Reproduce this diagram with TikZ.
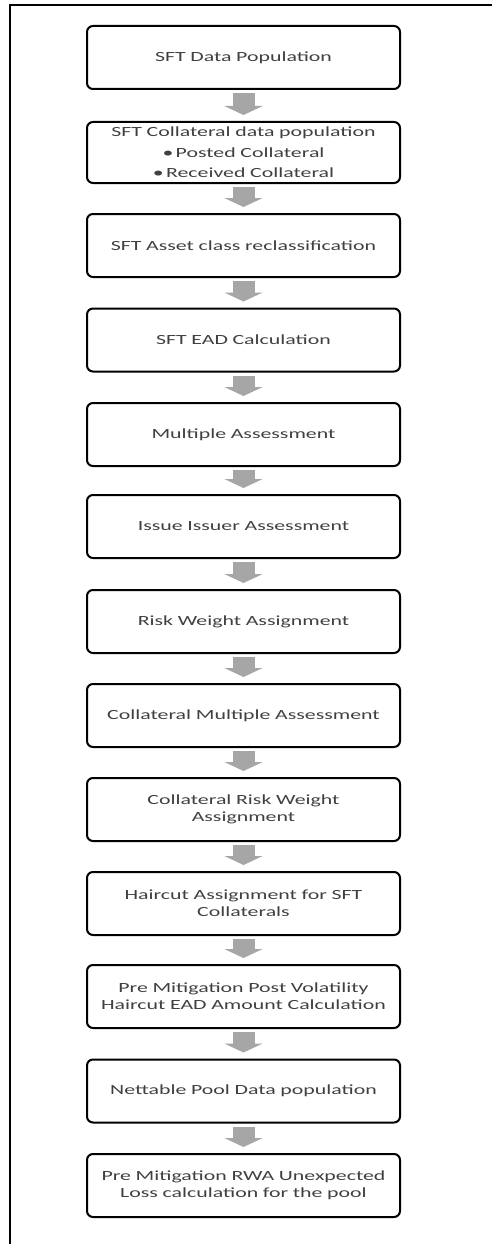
\documentclass[tikz,border=0pt]{standalone}
\usepackage{fontspec}
\setmainfont[FakeStretch=1.56]{Carlito}
\usetikzlibrary{arrows.meta,calc}
\definecolor{txt}{HTML}{404040}
\definecolor{arr}{HTML}{A6A6A6}
\tikzset{
  stepbox/.style={draw=black, line width=2pt, rounded corners=6pt, minimum width=313pt, minimum height=63pt, inner sep=1pt, align=center, text=txt, font=\fontsize{14}{17}\selectfont, text width=309pt},
  flowarrow/.style={draw=arr, line width=22pt, -{Triangle[width=38pt,length=9pt]}, shorten <=3pt, shorten >=6pt},
}
\begin{document}
\begin{tikzpicture}[x=1pt,y=-1pt]
\useasboundingbox (0,0) rectangle (492,1244);
\draw[line width=2pt] (10,1244) -- (10,5) -- (492,5);
\node[stepbox] (b1) at (243.5,57.5) {SFT Data Population};
\node[stepbox, minimum height=61pt] (b2) at (243.5,152.5) {SFT Collateral data population\\[4pt]\textbullet\,Posted Collateral\\[3pt]\textbullet\,Received Collateral};
\node[stepbox] (b3) at (243.5,245.5) {SFT Asset class reclassification};
\node[stepbox] (b4) at (243.5,340) {SFT EAD Calculation};
\node[stepbox] (b5) at (243.5,434.5) {Multiple Assessment};
\node[stepbox] (b6) at (243.5,526.5) {Issue Issuer Assessment};
\node[stepbox] (b7) at (243.5,621.5) {Risk Weight Assignment};
\node[stepbox] (b8) at (243.5,715.5) {Collateral Multiple Assessment};
\node[stepbox] (b9) at (243.5,809.5) {Collateral Risk Weight\\Assignment};
\node[stepbox] (b10) at (243.5,903.5) {Haircut Assignment for SFT\\Collaterals};
\node[stepbox] (b11) at (243.5,996.5) {Pre Mitigation Post Volatility\\Haircut EAD Amount Calculation};
\node[stepbox] (b12) at (243.5,1091) {Nettable Pool Data population};
\node[stepbox] (b13) at (243.5,1185.5) {Pre Mitigation RWA Unexpected\\Loss calculation for the pool};
\foreach \a/\b in {b1/b2,b2/b3,b3/b4,b4/b5,b5/b6,b6/b7,b7/b8,b8/b9,b9/b10,b10/b11,b11/b12,b12/b13}
  \draw[flowarrow] (\a.south) -- (\b.north);
\end{tikzpicture}
\end{document}
